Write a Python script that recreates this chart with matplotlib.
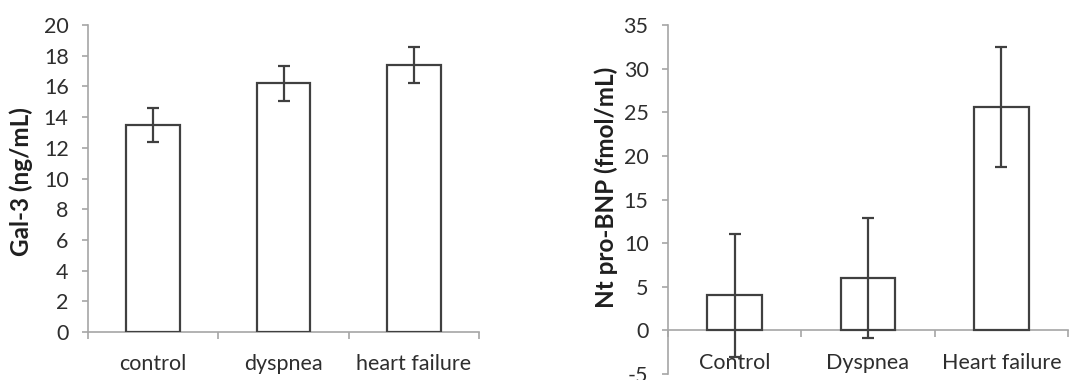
import numpy as np
import matplotlib
matplotlib.use('Agg')
import matplotlib.pyplot as plt

plt.rcParams['font.family'] = ['Lato', 'DejaVu Sans']
plt.rcParams['axes.unicode_minus'] = False

# Gal-3 panel
gal_groups = ['control', 'dyspnea', 'heart failure']
gal_mean = [13.5, 16.2, 17.4]
gal_err = [1.1, 1.15, 1.15]
gal_ticks = list(range(0, 21, 2))

# Nt pro-BNP panel
bnp_groups = ['Control', 'Dyspnea', 'Heart failure']
bnp_mean = [4.0, 6.0, 25.6]
bnp_err = [7.0, 6.9, 6.9]
bnp_ticks = list(range(-5, 36, 5))

edge = '#404040'
axcol = '#a6a6a6'
txt = '#2e2e2e'

fig = plt.figure(figsize=(10.91, 3.8), dpi=100)
ax1 = fig.add_axes([88/1091, 48/380, 391/1091, 307/380])
ax2 = fig.add_axes([668/1091, 6/380, 400/1091, 349/380])


def draw(ax, groups, mean, err, ticks, ylabel, ylab_x, ylab_y):
    x = np.arange(len(groups))
    ax.bar(x, mean, width=0.41, color='white', edgecolor=edge, linewidth=1.6, zorder=2)
    ax.errorbar(x, mean, yerr=err, fmt='none', ecolor=edge, elinewidth=1.6,
                capsize=4.5, capthick=1.6, zorder=3)
    ax.set_xlim(-0.5, len(groups) - 0.5)
    ax.set_ylim(ticks[0], ticks[-1])
    ax.set_yticks(ticks)
    ax.set_xticks(x)
    ax.set_xticklabels(groups)
    ax.set_xticks(np.arange(len(groups) + 1) - 0.5, minor=True)
    for s in ['top', 'right']:
        ax.spines[s].set_visible(False)
    ax.spines['left'].set_color(axcol)
    ax.spines['bottom'].set_color(axcol)
    ax.spines['left'].set_linewidth(1.2)
    ax.spines['bottom'].set_linewidth(1.2)
    ax.spines['bottom'].set_position(('data', 0))
    ax.spines['bottom'].set_zorder(1)
    ax.tick_params(axis='y', direction='out', length=4, width=1.2, color=axcol,
                   labelsize=15.5, labelcolor=txt, pad=10)
    ax.tick_params(axis='x', which='major', length=0, labelsize=15.5,
                   labelcolor=txt, pad=16)
    ax.tick_params(axis='x', which='minor', direction='out', length=5,
                   width=1.2, color=axcol)
    ax.set_ylabel(ylabel, fontsize=17.5, fontweight='bold', color='#1f1f1f')
    ax.yaxis.set_label_coords(ylab_x, ylab_y)
    ax.patch.set_alpha(0)


draw(ax1, gal_groups, gal_mean, gal_err, gal_ticks, 'Gal-3 (ng/mL)', -0.141, 0.489)
draw(ax2, bnp_groups, bnp_mean, bnp_err, bnp_ticks, 'Nt pro-BNP (fmol/mL)', -0.125, 0.536)
for lab in ax2.get_xticklabels():
    lab.set_zorder(1)

fig.savefig('out.png', dpi=100)
